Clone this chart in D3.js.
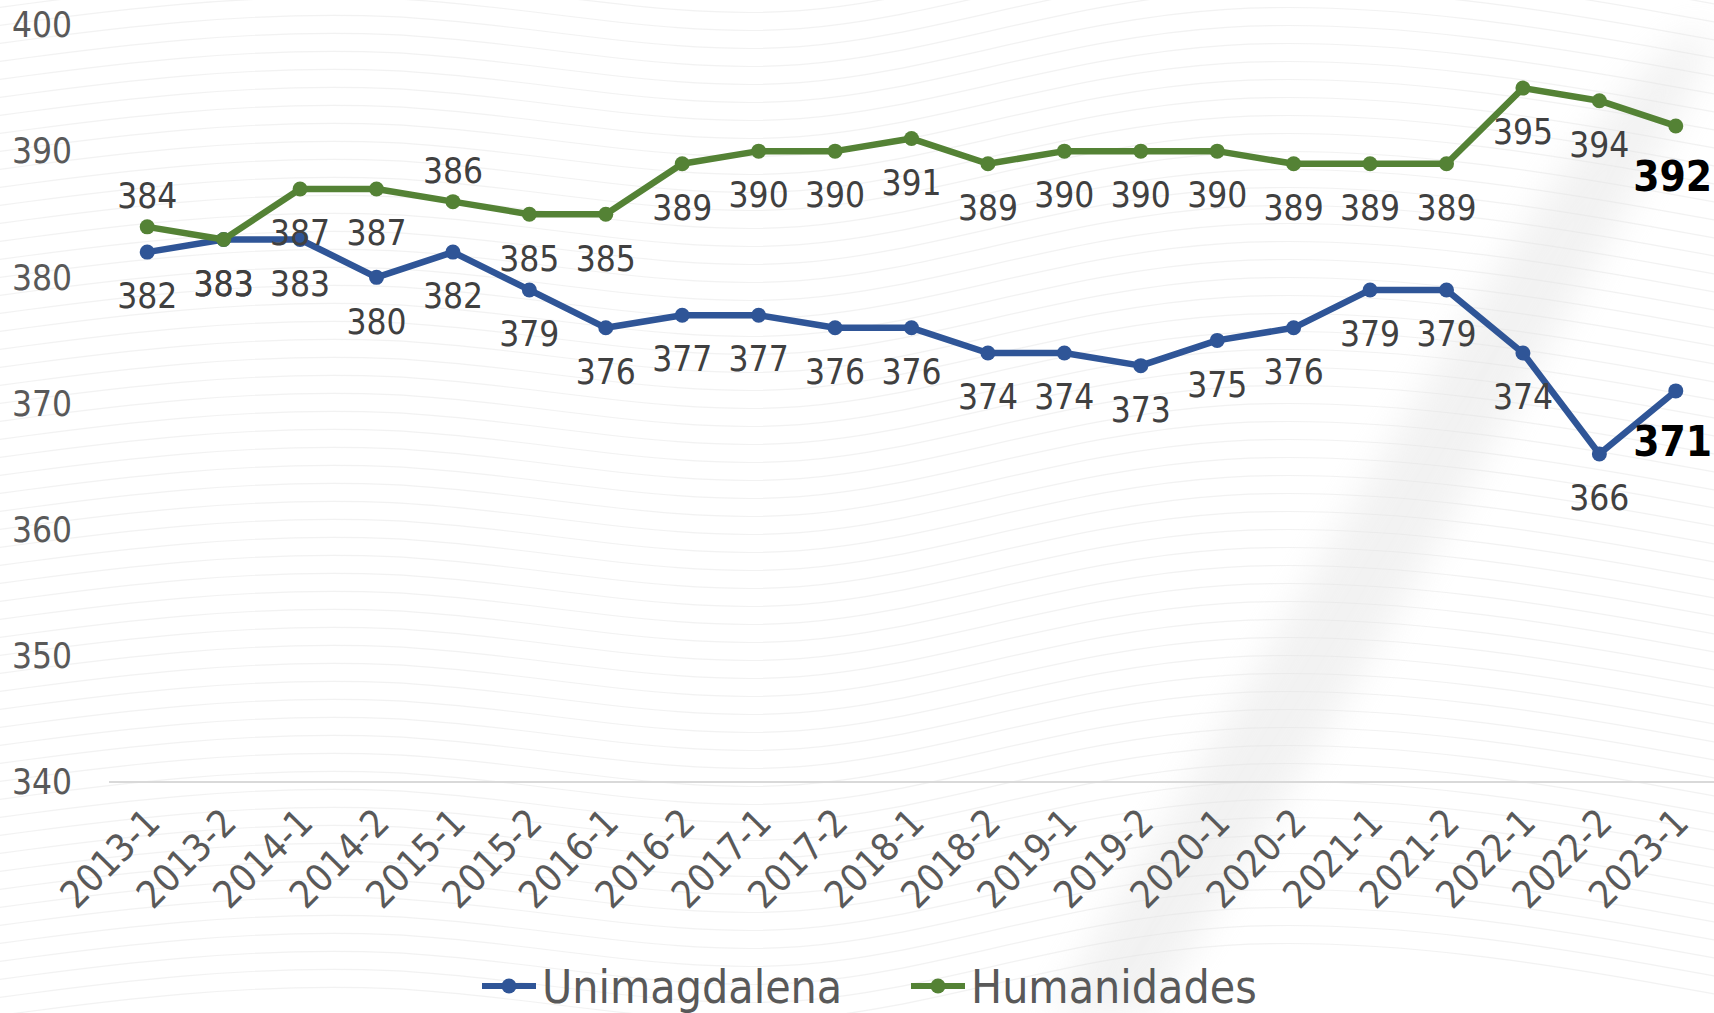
<!DOCTYPE html>
<html>
<head>
<meta charset="utf-8">
<script src="https://cdn.jsdelivr.net/npm/d3@7"></script>
<style>
  html, body { margin: 0; padding: 0; background: #fff; }
  svg { display: block; }
  text { font-family: "Liberation Sans Narrow", "DejaVu Sans Condensed", "Liberation Sans", sans-serif; }
</style>
</head>
<body>
<svg id="chart"></svg>
<script>
const periods = ['2013-1', '2013-2', '2014-1', '2014-2', '2015-1', '2015-2', '2016-1', '2016-2',
  '2017-1', '2017-2', '2018-1', '2018-2', '2019-1', '2019-2', '2020-1', '2020-2',
  '2021-1', '2021-2', '2022-1', '2022-2', '2023-1'];
const unimagdalena = [382, 383, 383, 380, 382, 379, 376, 377, 377, 376, 376, 374, 374, 373, 375, 376, 379, 379, 374, 366, 371];
const humanidades = [384, 383, 387, 387, 386, 385, 385, 389, 390, 390, 391, 389, 390, 390, 390, 389, 389, 389, 395, 394, 392];
const yTicks = [340, 350, 360, 370, 380, 390, 400];

// labels Excel put above the point (all others sit below)
const humanidadesAbove = ['2013-1', '2015-1'];

const SERIES = [
  { name: 'Unimagdalena', values: unimagdalena, color: '#2f5597', above: [] },
  { name: 'Humanidades', values: humanidades, color: '#548235', above: humanidadesAbove },
];

const width = 1714;
const height = 1013;

const svg = d3.select('#chart').attr('width', width).attr('height', height);
const defs = svg.append('defs');

// faint wavy texture behind the chart
const bg = svg.append('g').attr('fill', 'none').attr('stroke', '#e6e6e6').attr('stroke-width', 1.2);
const wave = d3.line().curve(d3.curveBasis);
d3.range(0, 60).forEach(k => {
  const off = k * 18 - 120;
  bg.append('path')
    .attr('d', wave([[-50, off + 80], [400, off + 20], [800, off + 120], [1200, off - 40], [1760, off + 60]]))
    .attr('opacity', 0.5);
});
defs.append('filter').attr('id', 'soft')
  .attr('x', '-50%').attr('y', '-50%').attr('width', '200%').attr('height', '200%')
  .append('feGaussianBlur').attr('stdDeviation', 18);
svg.append('path')
  .attr('d', wave([[1050, 1013], [1300, 600], [1560, 150], [1714, 0], [1714, 60], [1600, 250], [1380, 650], [1150, 1013]]))
  .attr('fill', '#e2e2e2').attr('opacity', 0.45).attr('filter', 'url(#soft)');

const x = d3.scaleBand().domain(periods).range([109, 1714]);
const y = d3.scaleLinear().domain([340, 400]).range([782, 25]);
const cx = d => x(d) + x.bandwidth() / 2;

// baseline
svg.append('line')
  .attr('x1', 109).attr('x2', 1714)
  .attr('y1', y(340)).attr('y2', y(340))
  .attr('stroke', '#d9d9d9').attr('stroke-width', 2);

// y axis labels
svg.append('g').selectAll('text')
  .data(yTicks)
  .join('text')
  .attr('x', 72)
  .attr('y', d => y(d))
  .attr('dy', '0.35em')
  .attr('text-anchor', 'end')
  .attr('fill', '#595959')
  .attr('font-size', '35px')
  .text(d => d);

// x axis labels, rotated
svg.append('g').selectAll('text')
  .data(periods)
  .join('text')
  .attr('transform', d => 'translate(' + (cx(d) - 4) + ',' + 806 + ') rotate(-45)')
  .attr('text-anchor', 'end')
  .attr('dy', '0.7em')
  .attr('fill', '#595959')
  .attr('font-size', '38px')
  .text(d => d);

const line = d3.line()
  .x((d, i) => cx(periods[i]))
  .y(d => y(d));

SERIES.forEach(s => {
  const g = svg.append('g');
  g.append('path')
    .datum(s.values)
    .attr('d', line)
    .attr('fill', 'none')
    .attr('stroke', s.color)
    .attr('stroke-width', 6.5)
    .attr('stroke-linejoin', 'round');

  g.selectAll('circle')
    .data(s.values)
    .join('circle')
    .attr('cx', (d, i) => cx(periods[i]))
    .attr('cy', d => y(d))
    .attr('r', 7.5)
    .attr('fill', s.color);
});

// data labels
SERIES.forEach(s => {
  const last = s.values.length - 1;
  svg.append('g').selectAll('text')
    .data(s.values)
    .join('text')
    .attr('x', (d, i) => i === last ? 1712 : cx(periods[i]))
    .attr('y', (d, i) => {
      if (i === last) return y(d) + 50;
      return s.above.includes(periods[i]) ? y(d) - 31 : y(d) + 44;
    })
    .attr('dy', '0.35em')
    .attr('text-anchor', (d, i) => i === last ? 'end' : 'middle')
    .attr('fill', (d, i) => i === last ? '#000' : '#404040')
    .attr('font-weight', (d, i) => i === last ? 'bold' : 'normal')
    .attr('font-size', (d, i) => i === last ? '42px' : '35px')
    .text(d => d);
});

// legend
const legend = svg.append('g');
const legendX = [482, 911];
SERIES.forEach((s, i) => {
  const g = legend.append('g').attr('transform', 'translate(' + legendX[i] + ',' + 986 + ')');
  g.append('line').attr('x1', 0).attr('x2', 54).attr('stroke', s.color).attr('stroke-width', 6);
  g.append('circle').attr('cx', 27).attr('r', 7.5).attr('fill', s.color);
  g.append('text').attr('x', 60).attr('dy', '0.36em')
    .attr('fill', '#595959').attr('font-size', '46px').text(s.name);
});
</script>
</body>
</html>
